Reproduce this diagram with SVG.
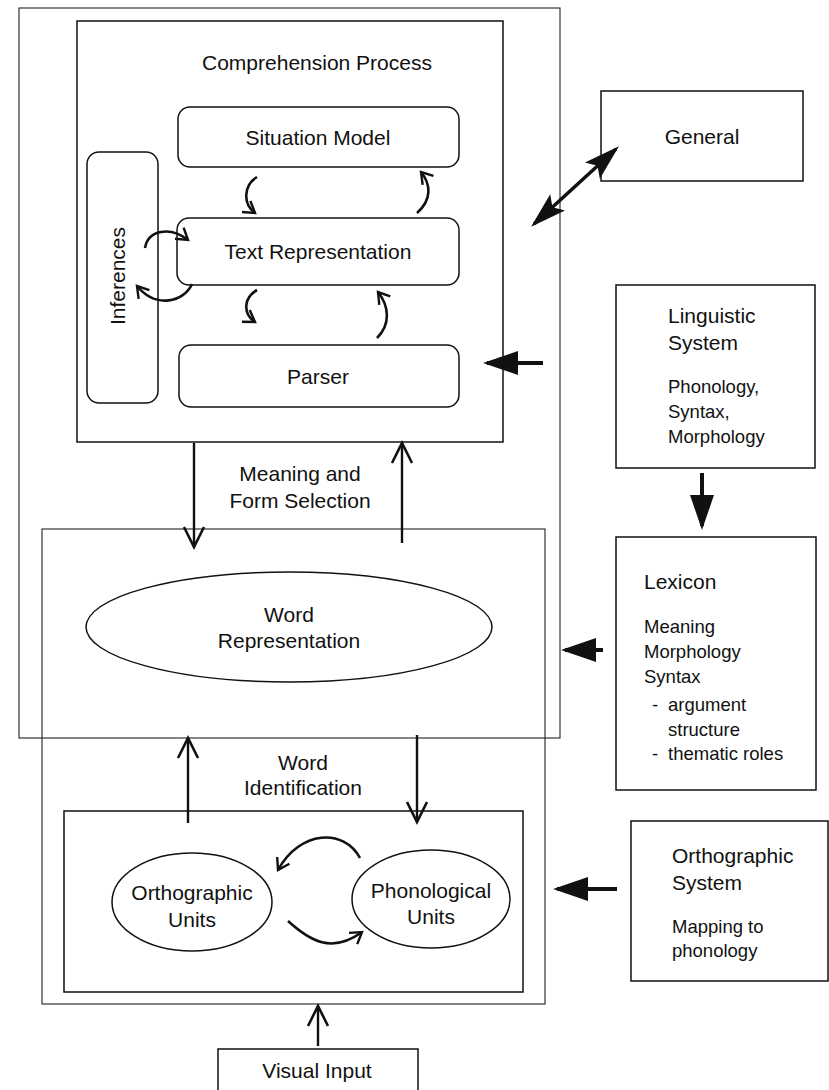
<svg xmlns="http://www.w3.org/2000/svg" width="829" height="1090" viewBox="0 0 829 1090">
<defs>
<style>
.box{fill:none;stroke:#111;stroke-width:1.5}
.frame{fill:none;stroke:#222;stroke-width:1.1}
.t{font-family:"Liberation Sans",Arial,sans-serif;font-size:21px;fill:#111}
.s{font-family:"Liberation Sans",Arial,sans-serif;font-size:18.5px;fill:#111}
.c{text-anchor:middle}
.thin{fill:none;stroke:#111;stroke-width:2.4}
.thick{fill:none;stroke:#111;stroke-width:4}
.curve{fill:none;stroke:#111;stroke-width:2.6}
</style>
<marker id="openL" markerUnits="userSpaceOnUse" markerWidth="24" markerHeight="22" refX="20" refY="10" orient="auto" overflow="visible">
<path d="M0,0 L20,10 L0,20" fill="none" stroke="#111" stroke-width="2.6"/>
</marker>
<marker id="openS" markerUnits="userSpaceOnUse" markerWidth="16" markerHeight="16" refX="11" refY="7" orient="auto" overflow="visible">
<path d="M0,0 L11,7 L0,14" fill="none" stroke="#111" stroke-width="2.4"/>
</marker>
<marker id="solid" markerUnits="userSpaceOnUse" markerWidth="38" markerHeight="26" refX="31" refY="12" orient="auto" overflow="visible">
<path d="M0,0 L35,12 L0,24 Z" fill="#111"/>
</marker>
<marker id="solidD" markerUnits="userSpaceOnUse" markerWidth="40" markerHeight="26" refX="32" refY="11" orient="auto" overflow="visible">
<path d="M0,0 L36,11 L0,22 L7,11 Z" fill="#111"/>
</marker>
<marker id="solidDs" markerUnits="userSpaceOnUse" markerWidth="40" markerHeight="26" refX="4" refY="11" orient="auto" overflow="visible">
<path d="M36,0 L0,11 L36,22 L29,11 Z" fill="#111"/>
</marker>
</defs>
<rect width="829" height="1090" fill="#fff"/>

<g id="frame-upper"><rect class="frame" x="19" y="8" width="541" height="730"/></g>
<g id="frame-lower"><rect class="frame" x="42" y="529" width="503" height="475"/></g>

<g id="comprehension-process">
<rect class="box" x="77" y="21" width="426" height="421"/>
<text class="t c" x="317" y="70">Comprehension Process</text>
</g>
<g id="situation-model">
<rect class="box" x="178" y="107" width="281" height="60" rx="12"/>
<text class="t c" x="318" y="145">Situation Model</text>
</g>
<g id="inferences">
<rect class="box" x="87" y="152" width="71" height="251" rx="12"/>
<text class="t c" transform="translate(125,276) rotate(-90)">Inferences</text>
</g>
<g id="text-representation">
<rect class="box" x="177" y="218" width="282" height="67" rx="12"/>
<text class="t c" x="318" y="259">Text Representation</text>
</g>
<g id="parser">
<rect class="box" x="179" y="345" width="280" height="62" rx="12"/>
<text class="t c" x="318" y="384">Parser</text>
</g>
<g id="general">
<rect class="box" x="601" y="91" width="202" height="90"/>
<text class="t c" x="702" y="144">General</text>
</g>
<g id="linguistic-system">
<rect class="box" x="616" y="285" width="199" height="183"/>
<text class="t" x="668" y="323">Linguistic</text>
<text class="t" x="668" y="350">System</text>
<text class="s" x="668" y="393">Phonology,</text>
<text class="s" x="668" y="418">Syntax,</text>
<text class="s" x="668" y="443">Morphology</text>
</g>
<g id="lexicon">
<rect class="box" x="616" y="537" width="200" height="253"/>
<text class="t" x="644" y="589">Lexicon</text>
<text class="s" x="644" y="633">Meaning</text>
<text class="s" x="644" y="658">Morphology</text>
<text class="s" x="644" y="683">Syntax</text>
<text class="s" x="652" y="711">-</text>
<text class="s" x="668" y="711">argument</text>
<text class="s" x="668" y="736">structure</text>
<text class="s" x="652" y="760">-</text>
<text class="s" x="668" y="760">thematic roles</text>
</g>
<g id="meaning-form-selection">
<text class="t c" x="300" y="481">Meaning and</text>
<text class="t c" x="300" y="508">Form Selection</text>
</g>
<g id="word-representation">
<ellipse class="box" cx="289" cy="627" rx="203" ry="55"/>
<text class="t c" x="289" y="622">Word</text>
<text class="t c" x="289" y="648">Representation</text>
</g>
<g id="word-identification">
<text class="t c" x="303" y="770">Word</text>
<text class="t c" x="303" y="795">Identification</text>
</g>
<g id="units-box"><rect class="box" x="64" y="811" width="459" height="181"/></g>
<g id="orthographic-units">
<ellipse class="box" cx="192" cy="902" rx="80" ry="49"/>
<text class="t c" x="192" y="900">Orthographic</text>
<text class="t c" x="192" y="927">Units</text>
</g>
<g id="phonological-units">
<ellipse class="box" cx="431" cy="899" rx="79" ry="49"/>
<text class="t c" x="431" y="898">Phonological</text>
<text class="t c" x="431" y="924">Units</text>
</g>
<g id="orthographic-system">
<rect class="box" x="631" y="821" width="197" height="160"/>
<text class="t" x="672" y="863">Orthographic</text>
<text class="t" x="672" y="890">System</text>
<text class="s" x="672" y="933">Mapping to</text>
<text class="s" x="672" y="957">phonology</text>
</g>
<g id="visual-input">
<rect class="box" x="218" y="1049" width="200" height="50"/>
<text class="t c" x="317" y="1078">Visual Input</text>
</g>

<g id="connectors">
<path class="curve" d="M257,177 C243,186 243,204 255,213" marker-end="url(#openS)"/>
<path class="curve" d="M417,213 C432,200 431,184 421,172" marker-end="url(#openS)"/>
<path class="curve" d="M257,290 C243,298 243,314 255,322" marker-end="url(#openS)"/>
<path class="curve" d="M377,338 C391,324 389,306 378,292" marker-end="url(#openS)"/>
<path class="curve" d="M145,248 C148,230 170,226 188,240" marker-end="url(#openS)"/>
<path class="curve" d="M192,284 C184,302 156,309 137,286" marker-end="url(#openS)"/>
<path class="curve" d="M360,858 C344,828 300,830 278,870" marker-end="url(#openS)"/>
<path class="curve" d="M288,921 C310,941 332,954 362,932" marker-end="url(#openS)"/>
<line class="thin" x1="194" y1="443" x2="194" y2="547" marker-end="url(#openL)"/>
<line class="thin" x1="402" y1="543" x2="402" y2="443" marker-end="url(#openL)"/>
<line class="thin" x1="188" y1="823" x2="188" y2="738" marker-end="url(#openL)"/>
<line class="thin" x1="417" y1="735" x2="417" y2="822" marker-end="url(#openL)"/>
<line class="thin" x1="318" y1="1046" x2="318" y2="1006" marker-end="url(#openL)"/>
<line class="thick" x1="543" y1="363" x2="487" y2="363" marker-end="url(#solid)"/>
<line class="thick" x1="702" y1="473" x2="702" y2="526" marker-end="url(#solid)"/>
<line class="thick" x1="603" y1="650" x2="565" y2="650" marker-end="url(#solid)"/>
<line class="thick" x1="617" y1="889" x2="557" y2="889" marker-end="url(#solid)"/>
<line fill="none" stroke="#111" stroke-width="3.5" x1="534" y1="224" x2="616" y2="149" marker-start="url(#solidDs)" marker-end="url(#solidD)"/>
</g>
</svg>
